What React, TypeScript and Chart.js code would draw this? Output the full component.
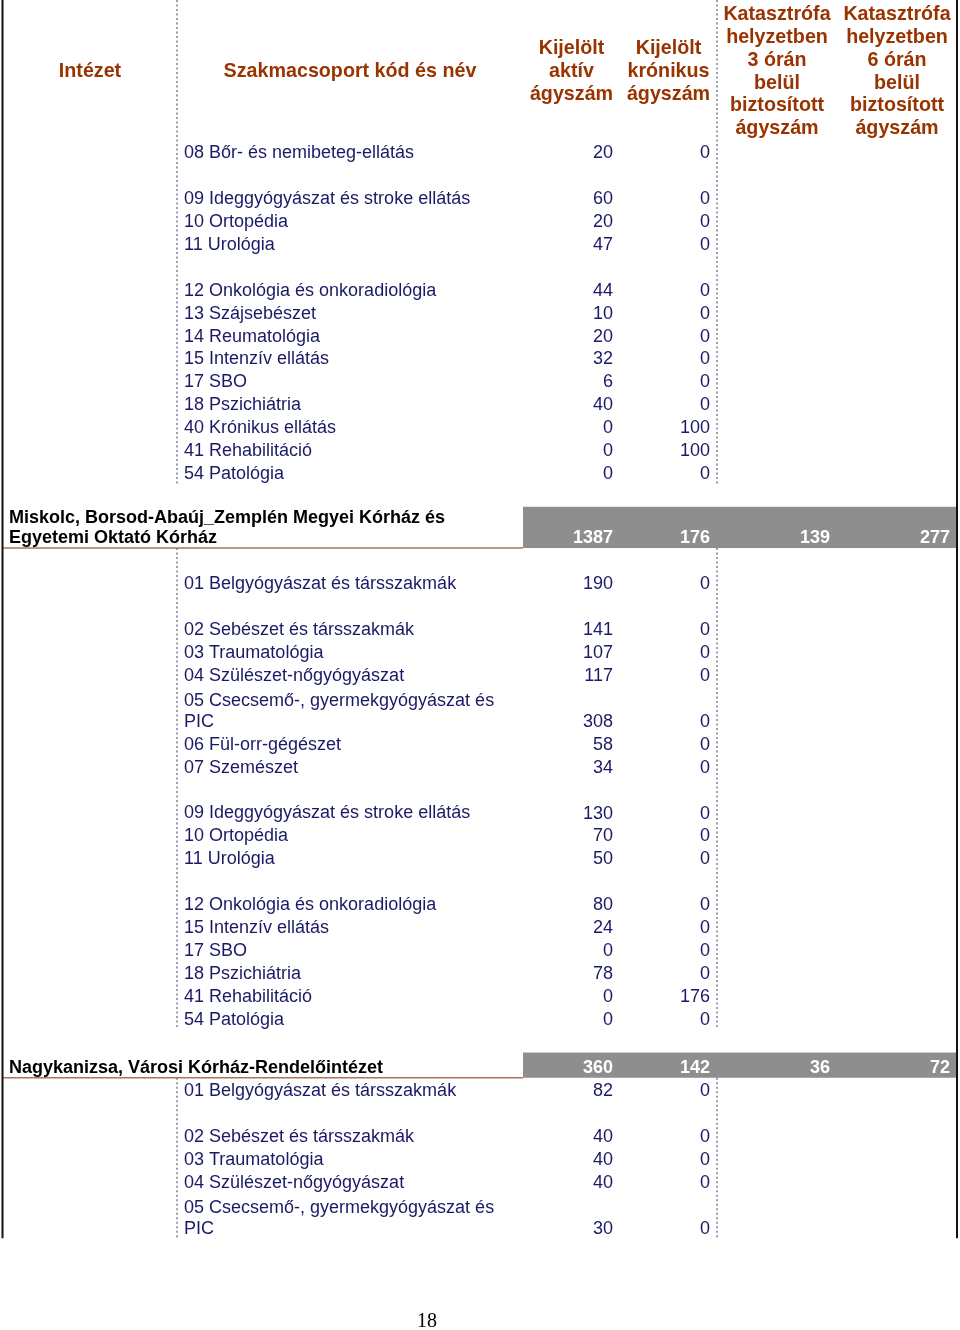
import { useEffect, useRef } from "react";
import { Chart, registerables } from "chart.js";

Chart.register(...registerables);

// ---------- DATA ----------
const HEADER_LABELS: string[][] = [
  ["Intézet"],
  ["Szakmacsoport kód és név"],
  ["Kijelölt", "aktív", "ágyszám"],
  ["Kijelölt", "krónikus", "ágyszám"],
  ["Katasztrófa", "helyzetben", "3 órán", "belül", "biztosított", "ágyszám"],
  ["Katasztrófa", "helyzetben", "6 órán", "belül", "biztosított", "ágyszám"],
];

// s = szakmacsoport row, b = blank row, i = intézet (total) row
const ROW_KIND: string[] = [
  "s", "b", "s", "s", "s", "b", "s", "s", "s", "s", "s", "s", "s", "s", "s", "b",
  "i", "b", "s", "b", "s", "s", "s", "s", "s", "s", "b", "s", "s", "s", "b",
  "s", "s", "s", "s", "s", "s", "b",
  "i", "s", "b", "s", "s", "s", "s",
];

const ROW_LABEL: string[] = [
  "08 Bőr- és nemibeteg-ellátás", "",
  "09 Ideggyógyászat és stroke ellátás", "10 Ortopédia", "11 Urológia", "",
  "12 Onkológia és onkoradiológia", "13 Szájsebészet", "14 Reumatológia",
  "15 Intenzív ellátás", "17 SBO", "18 Pszichiátria", "40 Krónikus ellátás",
  "41 Rehabilitáció", "54 Patológia", "",
  "Miskolc, Borsod-Abaúj_Zemplén Megyei Kórház és\nEgyetemi Oktató Kórház", "",
  "01 Belgyógyászat és társszakmák", "",
  "02 Sebészet és társszakmák", "03 Traumatológia", "04 Szülészet-nőgyógyászat",
  "05 Csecsemő-, gyermekgyógyászat és\nPIC", "06 Fül-orr-gégészet", "07 Szemészet", "",
  "09 Ideggyógyászat és stroke ellátás", "10 Ortopédia", "11 Urológia", "",
  "12 Onkológia és onkoradiológia", "15 Intenzív ellátás", "17 SBO",
  "18 Pszichiátria", "41 Rehabilitáció", "54 Patológia", "",
  "Nagykanizsa, Városi Kórház-Rendelőintézet",
  "01 Belgyógyászat és társszakmák", "",
  "02 Sebészet és társszakmák", "03 Traumatológia", "04 Szülészet-nőgyógyászat",
  "05 Csecsemő-, gyermekgyógyászat és\nPIC",
];

const AKTIV: (number | null)[] = [
  20, null, 60, 20, 47, null, 44, 10, 20, 32, 6, 40, 0, 0, 0, null,
  1387, null, 190, null, 141, 107, 117, 308, 58, 34, null, 130, 70, 50, null,
  80, 24, 0, 78, 0, 0, null,
  360, 82, null, 40, 40, 40, 30,
];

const KRONIKUS: (number | null)[] = [
  0, null, 0, 0, 0, null, 0, 0, 0, 0, 0, 0, 100, 100, 0, null,
  176, null, 0, null, 0, 0, 0, 0, 0, 0, null, 0, 0, 0, null,
  0, 0, 0, 0, 176, 0, null,
  142, 0, null, 0, 0, 0, 0,
];

const KAT3: (number | null)[] = ROW_KIND.map((k, i) => (i === 16 ? 139 : i === 38 ? 36 : null));
const KAT6: (number | null)[] = ROW_KIND.map((k, i) => (i === 16 ? 277 : i === 38 ? 72 : null));

const PAGE_NUMBER = "18";

// ---------- LAYOUT / STYLE ----------
const COL_EDGES = [3, 177, 523, 620, 717, 837, 957];
const X_MAX = 960;
const U_MAX = 58; // row units over the full page height
const HEADER_UNITS = 6.1;
const NUM_PAD = 7;
const TEXT_DY = 1.8;
const FONT = "'Liberation Sans', Arial, sans-serif";
const NAVY = "#1a1a66";
const BROWN = "#993300";
const GRAY = "#8e8e8e";

function rowUnits(kind: string, label: string): number {
  const lines = label.split("\n").length;
  if (kind === "i") return lines > 1 ? 1.8 : 1.1;
  if (kind === "s") return lines;
  return 1;
}

type RowBox = { kind: string; label: string; top: number; bottom: number };
const ROWS: RowBox[] = (() => {
  let t = HEADER_UNITS;
  return ROW_KIND.map((kind, i) => {
    const h = rowUnits(kind, ROW_LABEL[i]);
    const r = { kind, label: ROW_LABEL[i], top: t, bottom: t + h };
    t += h;
    return r;
  });
})();
const TABLE_END = ROWS[ROWS.length - 1].bottom;

const VALUE_COLUMNS: (number | null)[][] = [AKTIV, KRONIKUS, KAT3, KAT6];

const datasets = VALUE_COLUMNS.map((col, c) => ({
  label: HEADER_LABELS[c + 2].join(" "),
  data: col
    .map((v, i) =>
      v === null
        ? null
        : { x: COL_EDGES[c + 3] - NUM_PAD, y: ROWS[i].bottom - 0.5, v, kind: ROWS[i].kind }
    )
    .filter((p) => p !== null) as any[],
  pointRadius: 0,
  showLine: false,
}));

const tablePlugin = {
  id: "tableDraw",
  beforeDatasetsDraw(chart: any) {
    const { ctx } = chart;
    const xs = chart.scales.x;
    const ys = chart.scales.y;
    const px = (v: number) => xs.getPixelForValue(v);
    const py = (v: number) => ys.getPixelForValue(v);
    ctx.save();
    ROWS.forEach((r) => {
      if (r.kind !== "i") return;
      const top = py(r.top);
      const bot = py(r.bottom);
      ctx.fillStyle = GRAY;
      ctx.fillRect(px(COL_EDGES[2]), top, px(COL_EDGES[6]) - px(COL_EDGES[2]), bot - top);
      ctx.strokeStyle = "#a8765a";
      ctx.lineWidth = 1.5;
      ctx.beginPath();
      ctx.moveTo(px(COL_EDGES[0]), bot);
      ctx.lineTo(px(COL_EDGES[2]), bot);
      ctx.stroke();
    });
    const spans: [number, number][] = [];
    let start = 0;
    let open = true;
    ROWS.forEach((r, i) => {
      const next = ROWS[i + 1];
      const breaks = r.kind === "i" || (next && next.kind === "i");
      if (breaks) {
        if (open) spans.push([start, r.top]);
        open = false;
        if (r.kind === "i") {
          start = r.bottom;
          open = true;
        }
      }
    });
    if (open) spans.push([start, TABLE_END]);
    ctx.strokeStyle = "#7c7c9c";
    ctx.lineWidth = 1.5;
    ctx.setLineDash([2, 2.5]);
    spans.forEach(([a, b]) => {
      [COL_EDGES[1], COL_EDGES[4]].forEach((cx) => {
        ctx.beginPath();
        ctx.moveTo(px(cx), py(a));
        ctx.lineTo(px(cx), py(b));
        ctx.stroke();
      });
    });
    ctx.setLineDash([]);
    ctx.strokeStyle = "#111";
    ctx.lineWidth = 2;
    [COL_EDGES[0] - 0.5, COL_EDGES[6]].forEach((bx) => {
      ctx.beginPath();
      ctx.moveTo(px(bx), py(0));
      ctx.lineTo(px(bx), py(TABLE_END));
      ctx.stroke();
    });
    ctx.restore();
  },
  afterDatasetsDraw(chart: any) {
    const { ctx } = chart;
    const xs = chart.scales.x;
    const ys = chart.scales.y;
    const px = (v: number) => xs.getPixelForValue(v);
    const py = (v: number) => ys.getPixelForValue(v);
    ctx.save();
    ctx.textBaseline = "middle";
    ctx.fillStyle = BROWN;
    ctx.font = `bold 19.7px ${FONT}`;
    ctx.textAlign = "center";
    const hc = py(HEADER_UNITS / 2) + TEXT_DY;
    HEADER_LABELS.forEach((lines, c) => {
      const cx = (px(COL_EDGES[c]) + px(COL_EDGES[c + 1])) / 2;
      const lh = 22.8;
      lines.forEach((ln, k) => {
        ctx.fillText(ln, cx, hc + (k - (lines.length - 1) / 2) * lh);
      });
    });
    ctx.textAlign = "left";
    ROWS.forEach((r) => {
      if (!r.label) return;
      const lines = r.label.split("\n");
      const bot = py(r.bottom);
      const lastY = bot - 11.5 + TEXT_DY;
      if (r.kind === "i") {
        ctx.fillStyle = "#000";
        ctx.font = `bold 18px ${FONT}`;
        lines.forEach((ln, k) => {
          ctx.fillText(ln, px(COL_EDGES[0] + 6), lastY - (lines.length - 1 - k) * 20.5);
        });
      } else {
        ctx.fillStyle = NAVY;
        ctx.font = `18px ${FONT}`;
        lines.forEach((ln, k) => {
          ctx.fillText(ln, px(COL_EDGES[1] + 7), lastY - (lines.length - 1 - k) * 20.5);
        });
      }
    });
    ctx.textAlign = "right";
    chart.data.datasets.forEach((ds: any, di: number) => {
      const meta = chart.getDatasetMeta(di);
      meta.data.forEach((el: any, j: number) => {
        const p = ds.data[j];
        if (p.kind === "i") {
          ctx.fillStyle = "#fff";
          ctx.font = `bold 18px ${FONT}`;
        } else {
          ctx.fillStyle = NAVY;
          ctx.font = `18px ${FONT}`;
        }
        ctx.fillText(String(p.v), el.x, el.y + TEXT_DY);
      });
    });
    ctx.fillStyle = "#000";
    ctx.font = `20px 'Liberation Serif', 'Times New Roman', serif`;
    ctx.textAlign = "center";
    ctx.fillText(PAGE_NUMBER, px(427), py(57.55) + 2);
    ctx.restore();
  },
};

export default function App() {
  const ref = useRef<HTMLCanvasElement>(null);
  useEffect(() => {
    const chart = new Chart(ref.current as HTMLCanvasElement, {
      type: "scatter",
      data: { datasets: datasets as any },
      options: {
        animation: false,
        responsive: false,
        maintainAspectRatio: false,
        events: [],
        layout: { padding: 0 },
        plugins: { legend: { display: false }, tooltip: { enabled: false } },
        scales: {
          x: { type: "linear", display: false, min: 0, max: X_MAX },
          y: { type: "linear", display: false, min: 0, max: U_MAX, reverse: true },
        },
      },
      plugins: [tablePlugin],
    });
    return () => chart.destroy();
  }, []);
  return (
    <div style={{ position: "absolute", left: 0, top: 0, width: 960, height: 1330, background: "#fff" }}>
      <canvas ref={ref} width={960} height={1330} style={{ display: "block" }} />
    </div>
  );
}
